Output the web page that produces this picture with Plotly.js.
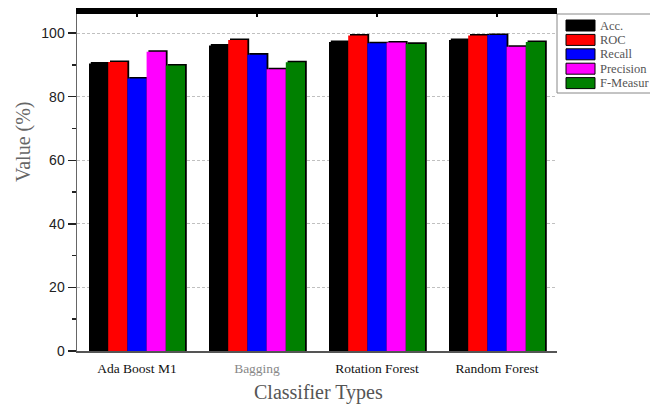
<!DOCTYPE html>
<html>
<head>
<meta charset="utf-8">
<script src="https://cdn.plot.ly/plotly-3.0.1.min.js"></script>
<style>
  html, body { margin: 0; padding: 0; background: #fff; }
  #chart { width: 650px; height: 406px; }
</style>
</head>
<body>
<div id="chart"></div>
<script>
// Classifier comparison data (percent)
const classifiers = ["Ada Boost M1", "Bagging", "Rotation Forest", "Random Forest"];
const seriesNames = ["Acc.", "ROC", "Recall", "Precision", "F-Measur"];
const accValues       = [90.4, 96.1, 97.2, 97.8];
const rocValues       = [90.9, 97.8, 99.2, 99.2];
const recallValues    = [85.7, 93.2, 96.8, 99.4];
const precisionValues = [94.1, 88.6, 97.0, 95.7];
const fMeasureValues  = [89.8, 90.8, 96.6, 97.2];
const yTickValues = [0, 20, 40, 60, 80, 100];

const seriesValues = [accValues, rocValues, recallValues, precisionValues, fMeasureValues];
const seriesColors = ["#000000", "#ff0000", "#0000ff", "#ff00ff", "#008000"];

// Layout geometry in pixels
const W = 650, H = 406;
const M = { l: 77, r: 93, t: 14, b: 55 };
const plotW = W - M.l - M.r;
const plotH = H - M.t - M.b;
const px2x = px => (px - M.l) / plotW;
const py2y = py => (H - M.b - py) / plotH;

const barWidth = 0.16;
const groupStart = -0.4;
const shadowDx = 0.015;
const shadowDy = 0.5;

const traces = [];
// Dark drop shadows behind every bar (top-right offset)
seriesValues.forEach((vals, i) => {
  traces.push({
    type: "bar",
    x: classifiers,
    y: vals.map(v => v + shadowDy),
    width: barWidth,
    offset: groupStart + i * barWidth + shadowDx,
    marker: { color: "#000000", line: { width: 0 } },
    showlegend: false,
    hoverinfo: "skip"
  });
});
// Coloured bars
seriesValues.forEach((vals, i) => {
  traces.push({
    type: "bar",
    name: seriesNames[i],
    x: classifiers,
    y: vals,
    width: barWidth,
    offset: groupStart + i * barWidth,
    marker: { color: seriesColors[i], line: { width: 0 } },
    showlegend: false,
    hoverinfo: "skip"
  });
});
// Carrier for the heavy top frame axis
traces.push({
  type: "scatter", x: [], y: [], xaxis: "x2", yaxis: "y",
  mode: "none", showlegend: false, hoverinfo: "skip"
});

// Legend box with wide swatches
const shapes = [];
const annotations = [];
shapes.push({
  type: "rect", xref: "paper", yref: "paper", layer: "above",
  x0: px2x(557), x1: px2x(660), y0: py2y(93), y1: py2y(14),
  fillcolor: "#ffffff", line: { color: "#888888", width: 1 }
});
seriesNames.forEach((name, i) => {
  const cy = 25.5 + i * 14.4;
  shapes.push({
    type: "rect", xref: "paper", yref: "paper", layer: "above",
    x0: px2x(566), x1: px2x(595), y0: py2y(cy + 5.5), y1: py2y(cy - 5.5),
    fillcolor: seriesColors[i], line: { color: "#000000", width: 1 }
  });
  annotations.push({
    xref: "paper", yref: "paper", x: px2x(598), y: py2y(cy),
    xanchor: "left", yanchor: "middle", showarrow: false,
    text: name,
    font: { family: "Liberation Serif", size: 12.5, color: "#555555" }
  });
});
// Axis titles
annotations.push({
  xref: "paper", yref: "paper", x: px2x(23), y: py2y(142),
  xanchor: "center", yanchor: "middle", showarrow: false, textangle: -90,
  text: "Value (%)",
  font: { family: "Liberation Serif", size: 20, color: "#666666" }
});
annotations.push({
  xref: "paper", yref: "paper", x: px2x(318), y: py2y(392),
  xanchor: "center", yanchor: "middle", showarrow: false,
  text: "Classifier Types",
  font: { family: "Liberation Serif", size: 20, color: "#555555" }
});

const tickText = classifiers.map(c => c === "Bagging"
  ? '<span style="color:#888888">' + c + '</span>' : c);

const layout = {
  width: W, height: H,
  margin: M,
  paper_bgcolor: "#ffffff",
  plot_bgcolor: "#ffffff",
  barmode: "overlay",
  showlegend: false,
  xaxis: {
    type: "category",
    range: [-0.5, classifiers.length - 0.5],
    tickvals: classifiers,
    ticktext: tickText,
    ticks: "",
    ticklabelstandoff: 4,
    showgrid: false,
    zeroline: false,
    showline: true, linecolor: "#555555", linewidth: 2,
    tickfont: { family: "Liberation Serif", size: 13.5, color: "#111111" },
    fixedrange: true
  },
  xaxis2: {
    overlaying: "x", side: "top", anchor: "y",
    type: "linear",
    range: [-0.5, classifiers.length - 0.5],
    tickvals: classifiers.map((c, i) => i),
    showticklabels: false,
    ticks: "inside", ticklen: 3, tickwidth: 1.5, tickcolor: "#000000",
    showgrid: false, zeroline: false,
    showline: true, linecolor: "#000000", linewidth: 6,
    fixedrange: true
  },
  yaxis: {
    range: [0, 106],
    tickvals: yTickValues,
    ticks: "outside", ticklen: 8, tickwidth: 1.5, tickcolor: "#222222",
    minor: { dtick: 10, ticks: "outside", ticklen: 4, tickwidth: 1.5, tickcolor: "#222222", showgrid: false },
    showgrid: true, gridcolor: "#c0c0c0", griddash: "3px,2px", gridwidth: 1,
    zeroline: false,
    showline: true, linecolor: "#666666", linewidth: 1.5,
    tickfont: { family: "Liberation Sans", size: 14, color: "#222222" },
    fixedrange: true
  },
  shapes: shapes,
  annotations: annotations
};

Plotly.newPlot("chart", traces, layout, { staticPlot: true, displayModeBar: false });
</script>
</body>
</html>
